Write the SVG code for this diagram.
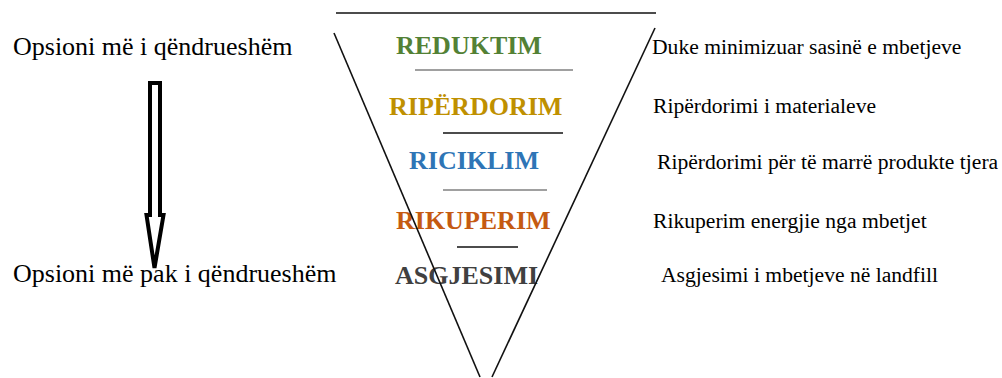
<svg xmlns="http://www.w3.org/2000/svg" width="1002" height="378" viewBox="0 0 1002 378">
<style>
.lvl{font-family:"Liberation Serif","Times New Roman",serif;font-weight:bold;font-size:26px}
.side{font-family:"Liberation Serif","Times New Roman",serif;font-size:26px;fill:#000}
.desc{font-family:"Liberation Serif","Times New Roman",serif;font-size:21.6px;fill:#000}
.edge{stroke:#111;stroke-width:1.6;fill:none}
.divk{stroke:#111;stroke-width:1.5}
.divg{stroke:#808080;stroke-width:1.7}
</style>
<rect width="1002" height="378" fill="#fff"/>
<g id="label-most">
<text class="side" x="13" y="55">Opsioni më i qëndrueshëm</text>
</g>
<g id="label-least">
<text class="side" x="13" y="282">Opsioni më pak i qëndrueshëm</text>
</g>
<g id="arrow">
<polygon points="150,83 160,83 160,215 163.5,215 154.5,268 146.5,215 150,215" fill="#fff" stroke="#000" stroke-width="4" stroke-linejoin="miter"/>
</g>
<g id="reduktim">
<text class="lvl" x="396" y="54" fill="#538135">REDUKTIM</text>
<text class="desc" x="652" y="54">Duke minimizuar sasinë e mbetjeve</text>
</g>
<g id="riperdorim">
<text class="lvl" x="389" y="115" fill="#BF9000">RIPËRDORIM</text>
<text class="desc" x="653" y="113">Ripërdorimi i materialeve</text>
</g>
<g id="riciklim">
<text class="lvl" x="409" y="169" fill="#2E75B6">RICIKLIM</text>
<text class="desc" x="657" y="169">Ripërdorimi për të marrë produkte tjera</text>
</g>
<g id="rikuperim">
<text class="lvl" x="396" y="229" fill="#C55A11">RIKUPERIM</text>
<text class="desc" x="653" y="228">Rikuperim energjie nga mbetjet</text>
</g>
<g id="asgjesimi">
<text class="lvl" x="395" y="284" fill="#404040">ASGJESIMI</text>
<text class="desc" x="661" y="282">Asgjesimi i mbetjeve në landfill</text>
</g>
<g id="connectors">
<line class="edge" x1="336" y1="13" x2="656" y2="13"/>
<line class="edge" x1="334" y1="33" x2="480" y2="377"/>
<line class="edge" x1="655" y1="28" x2="492" y2="377"/>
<line class="divg" x1="415" y1="70" x2="573" y2="70"/>
<line class="divk" x1="443" y1="133" x2="563" y2="133"/>
<line class="divg" x1="443" y1="190" x2="547" y2="190"/>
<line class="divk" x1="457" y1="247" x2="518" y2="247"/>
</g>
</svg>
